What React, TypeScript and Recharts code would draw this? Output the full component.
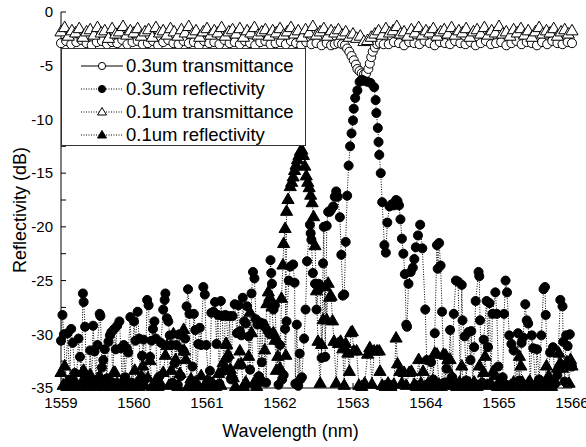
import React from "react";
import {
  ScatterChart,
  Scatter,
  XAxis,
  YAxis,
  ZAxis,
  Legend,
} from "recharts";

// wavelength (nm), level (dB)
const trans03: [number, number][] = [
  [1559.0, -2.9], [1559.07, -2.7], [1559.14, -3.0], [1559.21, -2.8], [1559.28, -2.6], [1559.35, -2.9],
  [1559.42, -3.1], [1559.49, -2.8], [1559.56, -2.7], [1559.63, -3.0], [1559.7, -2.8], [1559.77, -2.9],
  [1559.84, -2.6], [1559.91, -3.0], [1559.98, -2.8], [1560.05, -2.7], [1560.12, -3.0], [1560.19, -2.9],
  [1560.26, -2.7], [1560.33, -3.1], [1560.4, -2.8], [1560.47, -2.6], [1560.54, -2.9], [1560.61, -3.0],
  [1560.68, -2.7], [1560.75, -2.9], [1560.82, -2.8], [1560.89, -3.1], [1560.96, -2.7], [1561.03, -2.9],
  [1561.1, -2.8], [1561.17, -3.0], [1561.24, -2.6], [1561.31, -2.9], [1561.38, -2.8], [1561.45, -3.0],
  [1561.52, -2.7], [1561.59, -2.9], [1561.66, -3.1], [1561.73, -2.8], [1561.8, -2.7], [1561.87, -3.0],
  [1561.94, -2.9], [1562.01, -2.8], [1562.08, -3.0], [1562.15, -2.7], [1562.22, -2.9], [1562.29, -3.1],
  [1562.36, -2.8], [1562.43, -3.0], [1562.5, -2.9], [1562.57, -3.1], [1562.64, -2.9], [1562.7, -3.1],
  [1562.75, -3.0], [1562.8, -2.9], [1562.85, -3.0], [1562.89, -3.1], [1562.92, -3.4], [1562.95, -3.7],
  [1562.98, -4.1], [1563.01, -4.5], [1563.04, -4.9], [1563.06, -5.3], [1563.09, -5.5], [1563.12, -5.7],
  [1563.15, -5.8], [1563.18, -5.7], [1563.21, -5.3], [1563.23, -4.8], [1563.25, -4.2], [1563.27, -3.7],
  [1563.3, -3.3], [1563.33, -3.0], [1563.37, -2.9], [1563.42, -3.0], [1563.49, -3.0], [1563.56, -2.8],
  [1563.63, -2.9], [1563.7, -3.1], [1563.77, -2.8], [1563.84, -2.9], [1563.91, -3.0], [1563.98, -2.7],
  [1564.05, -2.9], [1564.12, -3.1], [1564.19, -2.8], [1564.26, -2.9], [1564.33, -3.0], [1564.4, -2.7],
  [1564.47, -2.9], [1564.54, -3.0], [1564.61, -2.8], [1564.68, -3.1], [1564.75, -2.9], [1564.82, -2.7],
  [1564.89, -3.0], [1564.96, -2.9], [1565.03, -2.8], [1565.1, -3.1], [1565.17, -2.9], [1565.24, -2.7],
  [1565.31, -3.0], [1565.38, -2.8], [1565.45, -2.9], [1565.52, -3.1], [1565.59, -2.8], [1565.66, -3.0],
  [1565.73, -2.7], [1565.8, -2.9], [1565.87, -3.0], [1565.94, -2.8], [1566.0, -2.9],
];

const refl03: [number, number][] = [
  [1559.0, -30.6], [1559.02, -28.2], [1559.04, -30.0], [1559.06, -34.6], [1559.09, -29.9], [1559.12, -34.2],
  [1559.14, -29.5], [1559.16, -30.8], [1559.19, -33.6], [1559.21, -34.8], [1559.24, -30.4], [1559.26, -32.1],
  [1559.28, -34.6], [1559.3, -26.2], [1559.31, -27.0], [1559.33, -29.3], [1559.35, -34.4], [1559.38, -34.0],
  [1559.4, -31.5], [1559.42, -34.7], [1559.44, -29.2], [1559.46, -31.6], [1559.48, -34.3], [1559.5, -31.0],
  [1559.53, -28.1], [1559.54, -28.3], [1559.56, -33.1], [1559.58, -32.4], [1559.6, -31.4], [1559.63, -34.1],
  [1559.65, -30.7], [1559.67, -30.1], [1559.69, -29.8], [1559.71, -34.5], [1559.73, -29.5], [1559.75, -31.4],
  [1559.77, -29.2], [1559.8, -28.8], [1559.82, -31.3], [1559.84, -34.6], [1559.86, -31.0], [1559.88, -34.0],
  [1559.9, -31.3], [1559.92, -31.7], [1559.95, -28.4], [1559.97, -34.5], [1560.0, -28.8], [1560.02, -30.6],
  [1560.05, -27.9], [1560.07, -30.4], [1560.09, -34.8], [1560.11, -32.0], [1560.13, -30.5], [1560.15, -34.2],
  [1560.18, -26.8], [1560.2, -27.3], [1560.22, -32.1], [1560.24, -30.6], [1560.26, -29.5], [1560.28, -28.8],
  [1560.3, -30.4], [1560.32, -34.6], [1560.35, -33.9], [1560.37, -30.8], [1560.4, -27.7], [1560.42, -26.8],
  [1560.43, -26.2], [1560.45, -28.5], [1560.47, -28.8], [1560.49, -30.1], [1560.51, -31.0], [1560.53, -34.5],
  [1560.56, -32.7], [1560.58, -31.0], [1560.6, -34.7], [1560.62, -30.0], [1560.64, -33.9], [1560.66, -31.4],
  [1560.68, -31.6], [1560.7, -30.4], [1560.72, -27.4], [1560.74, -25.8], [1560.76, -28.1], [1560.78, -34.4],
  [1560.8, -33.0], [1560.82, -28.1], [1560.84, -29.6], [1560.86, -34.7], [1560.88, -30.9], [1560.9, -29.4],
  [1560.92, -31.0], [1560.95, -25.6], [1560.97, -26.3], [1560.99, -31.0], [1561.02, -34.3], [1561.04, -33.4],
  [1561.06, -28.0], [1561.09, -27.9], [1561.11, -27.0], [1561.13, -30.9], [1561.15, -28.2], [1561.17, -34.6],
  [1561.19, -26.9], [1561.21, -28.3], [1561.23, -33.4], [1561.25, -28.2], [1561.27, -28.3], [1561.29, -32.2],
  [1561.31, -28.3], [1561.33, -34.2], [1561.35, -28.3], [1561.38, -27.2], [1561.41, -29.9], [1561.43, -27.3],
  [1561.45, -29.7], [1561.47, -30.1], [1561.49, -26.6], [1561.51, -28.8], [1561.53, -29.0], [1561.55, -27.4],
  [1561.57, -30.2], [1561.59, -33.3], [1561.61, -26.2], [1561.63, -24.2], [1561.65, -24.8], [1561.67, -28.6],
  [1561.69, -29.1], [1561.71, -33.9], [1561.73, -28.9], [1561.75, -32.6], [1561.77, -29.0], [1561.79, -29.3],
  [1561.81, -34.5], [1561.83, -29.7], [1561.86, -30.0], [1561.87, -23.1], [1561.88, -24.3], [1561.89, -25.3],
  [1561.91, -27.7], [1561.93, -27.3], [1561.95, -30.6], [1561.98, -34.7], [1562.0, -31.0], [1562.03, -34.2],
  [1562.05, -33.8], [1562.07, -29.5], [1562.09, -28.8], [1562.12, -25.0], [1562.14, -23.7], [1562.18, -23.5],
  [1562.2, -25.2], [1562.21, -34.6], [1562.23, -29.1], [1562.25, -34.8], [1562.27, -31.8], [1562.28, -34.2],
  [1562.3, -34.0], [1562.33, -30.4], [1562.35, -27.7], [1562.37, -23.2], [1562.41, -19.8], [1562.42, -20.6],
  [1562.43, -21.2], [1562.45, -24.3], [1562.48, -25.3], [1562.5, -27.7], [1562.53, -25.3], [1562.55, -25.7],
  [1562.57, -32.2], [1562.59, -23.4], [1562.6, -20.0], [1562.62, -32.1], [1562.64, -19.9], [1562.66, -18.6],
  [1562.68, -18.6], [1562.7, -18.4], [1562.73, -18.1], [1562.75, -17.2], [1562.77, -16.7], [1562.79, -17.2],
  [1562.82, -19.1], [1562.84, -22.6], [1562.86, -26.4], [1562.88, -26.3], [1562.9, -21.4], [1562.92, -17.1],
  [1562.94, -14.3], [1562.96, -12.5], [1562.98, -11.3], [1563.0, -10.1], [1563.01, -9.0], [1563.03, -8.0],
  [1563.06, -7.3], [1563.09, -6.5], [1563.12, -6.3], [1563.15, -6.4], [1563.2, -6.5], [1563.24, -6.6],
  [1563.29, -7.0], [1563.31, -8.2], [1563.32, -9.4], [1563.34, -10.8], [1563.35, -12.1], [1563.36, -13.3],
  [1563.38, -15.0], [1563.4, -17.7], [1563.43, -21.7], [1563.45, -22.4], [1563.47, -19.6], [1563.5, -18.1],
  [1563.53, -17.9], [1563.56, -18.0], [1563.59, -17.5], [1563.61, -17.6], [1563.63, -18.0], [1563.65, -19.3],
  [1563.67, -21.1], [1563.69, -22.5], [1563.71, -24.4], [1563.73, -29.1], [1563.74, -29.3], [1563.76, -25.3],
  [1563.79, -24.2], [1563.82, -23.8], [1563.84, -23.0], [1563.86, -21.9], [1563.89, -20.8], [1563.92, -19.8],
  [1563.95, -22.0], [1563.99, -27.7], [1564.01, -32.4], [1564.04, -34.6], [1564.07, -32.6], [1564.1, -34.2],
  [1564.12, -29.9], [1564.15, -21.7], [1564.16, -23.9], [1564.18, -21.5], [1564.2, -23.6], [1564.22, -27.9],
  [1564.25, -34.5], [1564.28, -33.2], [1564.31, -34.7], [1564.33, -29.6], [1564.36, -34.0], [1564.38, -28.1],
  [1564.41, -25.0], [1564.44, -25.1], [1564.47, -34.6], [1564.49, -25.4], [1564.5, -28.7], [1564.53, -30.2],
  [1564.55, -34.3], [1564.58, -29.8], [1564.61, -32.4], [1564.62, -29.7], [1564.64, -34.8], [1564.66, -31.2],
  [1564.68, -26.9], [1564.72, -24.2], [1564.73, -24.6], [1564.74, -28.7], [1564.77, -34.5], [1564.79, -30.5],
  [1564.83, -26.9], [1564.85, -31.2], [1564.87, -27.1], [1564.89, -34.7], [1564.91, -28.1], [1564.95, -26.1],
  [1564.97, -28.1], [1564.99, -33.0], [1565.02, -34.6], [1565.05, -34.0], [1565.07, -28.1], [1565.09, -25.0],
  [1565.11, -26.1], [1565.14, -30.1], [1565.17, -30.9], [1565.2, -31.5], [1565.23, -34.7], [1565.26, -29.9],
  [1565.28, -34.3], [1565.31, -30.8], [1565.33, -30.3], [1565.36, -27.2], [1565.38, -28.7], [1565.4, -29.0],
  [1565.43, -34.6], [1565.45, -30.1], [1565.47, -31.3], [1565.5, -34.8], [1565.52, -31.4], [1565.55, -34.2],
  [1565.58, -30.1], [1565.61, -25.8], [1565.63, -25.6], [1565.64, -28.2], [1565.67, -34.5], [1565.7, -31.7],
  [1565.74, -31.2], [1565.77, -34.6], [1565.8, -33.8], [1565.84, -26.8], [1565.87, -27.4], [1565.88, -30.7],
  [1565.9, -34.4], [1565.92, -30.1], [1565.94, -31.1], [1565.97, -30.0], [1566.0, -33.0],
];

const trans01: [number, number][] = [
  [1559.0, -1.9], [1559.05, -1.5], [1559.1, -2.3], [1559.15, -1.8], [1559.2, -2.0], [1559.25, -1.6],
  [1559.3, -2.4], [1559.35, -1.9], [1559.4, -1.7], [1559.45, -2.2], [1559.5, -1.5], [1559.55, -2.0],
  [1559.6, -1.8], [1559.65, -2.5], [1559.7, -1.6], [1559.75, -2.1], [1559.8, -1.9], [1559.85, -1.4],
  [1559.9, -2.2], [1559.95, -1.8], [1560.0, -2.0], [1560.05, -1.6], [1560.1, -2.3], [1560.15, -1.9],
  [1560.2, -1.7], [1560.25, -2.4], [1560.3, -1.5], [1560.35, -2.0], [1560.4, -1.8], [1560.45, -2.2],
  [1560.5, -1.6], [1560.55, -1.9], [1560.6, -2.3], [1560.65, -1.7], [1560.7, -2.0], [1560.75, -1.4],
  [1560.8, -2.1], [1560.85, -1.8], [1560.9, -2.4], [1560.95, -1.9], [1561.0, -1.6], [1561.05, -2.2],
  [1561.1, -1.8], [1561.15, -2.0], [1561.2, -1.5], [1561.25, -2.3], [1561.3, -1.9], [1561.35, -1.7],
  [1561.4, -2.1], [1561.45, -1.6], [1561.5, -2.4], [1561.55, -1.8], [1561.6, -2.0], [1561.65, -1.5],
  [1561.7, -2.2], [1561.75, -1.9], [1561.8, -1.7], [1561.85, -2.3], [1561.9, -1.8], [1561.95, -2.0],
  [1562.0, -1.6], [1562.05, -2.2], [1562.1, -1.9], [1562.15, -1.5], [1562.2, -2.1], [1562.25, -1.8],
  [1562.3, -2.4], [1562.35, -1.7], [1562.4, -2.0], [1562.45, -1.4], [1562.5, -2.2], [1562.55, -1.9],
  [1562.6, -1.6], [1562.65, -2.3], [1562.7, -1.8], [1562.75, -2.0], [1562.8, -1.7], [1562.85, -2.2],
  [1562.9, -1.9], [1562.95, -2.4], [1563.0, -2.1], [1563.05, -2.5], [1563.1, -2.3], [1563.15, -2.8],
  [1563.2, -2.7], [1563.25, -2.4], [1563.3, -2.1], [1563.35, -1.8], [1563.4, -2.2], [1563.45, -1.6],
  [1563.5, -2.0], [1563.55, -1.8], [1563.6, -1.4], [1563.65, -2.1], [1563.7, -1.9], [1563.75, -2.3],
  [1563.8, -1.7], [1563.85, -2.0], [1563.9, -1.5], [1563.95, -2.2], [1564.0, -1.8], [1564.05, -2.0],
  [1564.1, -1.6], [1564.15, -2.3], [1564.2, -1.9], [1564.25, -1.7], [1564.3, -2.1], [1564.35, -1.5],
  [1564.4, -2.2], [1564.45, -1.8], [1564.5, -2.0], [1564.55, -1.6], [1564.6, -2.4], [1564.65, -1.9],
  [1564.7, -1.7], [1564.75, -2.1], [1564.8, -1.5], [1564.85, -2.2], [1564.9, -1.8], [1564.95, -2.0],
  [1565.0, -1.4], [1565.05, -2.1], [1565.1, -1.9], [1565.15, -2.3], [1565.2, -1.7], [1565.25, -2.0],
  [1565.3, -1.6], [1565.35, -2.2], [1565.4, -1.8], [1565.45, -2.4], [1565.5, -1.9], [1565.55, -1.5],
  [1565.6, -2.1], [1565.65, -1.8], [1565.7, -2.0], [1565.75, -1.6], [1565.8, -2.3], [1565.85, -1.9],
  [1565.9, -1.7], [1565.95, -2.1], [1566.0, -1.8],
];

const refl01: [number, number][] = [
  [1559.0, -33.6], [1559.03, -34.8], [1559.05, -33.0], [1559.08, -34.9], [1559.12, -34.6], [1559.16, -34.9],
  [1559.2, -34.5], [1559.25, -34.9], [1559.29, -33.6], [1559.31, -33.4], [1559.34, -33.8], [1559.37, -34.9],
  [1559.4, -33.8], [1559.43, -34.7], [1559.47, -34.9], [1559.5, -34.2], [1559.53, -33.9], [1559.56, -34.8],
  [1559.6, -34.9], [1559.64, -34.5], [1559.68, -34.9], [1559.72, -33.6], [1559.74, -33.6], [1559.77, -34.6],
  [1559.8, -34.9], [1559.84, -34.4], [1559.88, -34.9], [1559.92, -34.7], [1559.96, -34.9], [1560.01, -33.4],
  [1560.04, -34.6], [1560.07, -34.9], [1560.1, -33.9], [1560.12, -33.0], [1560.15, -34.8], [1560.19, -34.1],
  [1560.22, -32.5], [1560.25, -34.9], [1560.29, -34.4], [1560.33, -34.9], [1560.37, -34.7], [1560.4, -33.6],
  [1560.43, -32.0], [1560.45, -31.1], [1560.48, -34.8], [1560.51, -33.4], [1560.54, -30.0], [1560.57, -32.4],
  [1560.6, -34.9], [1560.63, -33.7], [1560.66, -30.1], [1560.68, -29.6], [1560.69, -31.6], [1560.71, -32.4],
  [1560.74, -34.9], [1560.78, -34.2], [1560.82, -34.9], [1560.84, -34.5], [1560.88, -34.9], [1560.92, -33.9],
  [1560.96, -34.9], [1561.0, -34.4], [1561.04, -34.9], [1561.08, -34.6], [1561.12, -34.9], [1561.16, -33.7],
  [1561.19, -34.8], [1561.22, -32.7], [1561.24, -33.4], [1561.26, -30.9], [1561.27, -31.0], [1561.29, -31.9],
  [1561.32, -33.3], [1561.34, -33.8], [1561.36, -34.1], [1561.39, -34.9], [1561.43, -32.9], [1561.45, -31.6],
  [1561.47, -32.8], [1561.5, -34.9], [1561.53, -34.5], [1561.57, -32.1], [1561.59, -28.0], [1561.61, -29.9],
  [1561.64, -34.6], [1561.68, -34.9], [1561.72, -34.3], [1561.77, -34.5], [1561.79, -31.5], [1561.82, -27.2],
  [1561.84, -26.1], [1561.86, -26.6], [1561.89, -27.5], [1561.91, -29.9], [1561.93, -30.6], [1561.95, -33.4],
  [1561.97, -32.1], [1562.0, -33.2], [1562.02, -26.7], [1562.04, -23.6], [1562.05, -21.6], [1562.07, -20.2],
  [1562.08, -32.0], [1562.09, -18.6], [1562.11, -17.5], [1562.14, -16.3], [1562.16, -15.9], [1562.18, -15.4],
  [1562.2, -14.8], [1562.22, -14.3], [1562.24, -13.8], [1562.26, -13.4], [1562.28, -13.0], [1562.3, -12.9],
  [1562.32, -13.4], [1562.34, -14.4], [1562.36, -15.3], [1562.38, -15.9], [1562.4, -16.4], [1562.42, -17.1],
  [1562.44, -17.8], [1562.46, -19.1], [1562.48, -21.8], [1562.5, -26.0], [1562.52, -30.7], [1562.55, -34.6],
  [1562.57, -31.0], [1562.59, -28.7], [1562.62, -25.6], [1562.64, -28.7], [1562.66, -25.3], [1562.68, -26.6],
  [1562.7, -26.5], [1562.72, -28.8], [1562.74, -30.7], [1562.77, -34.6], [1562.8, -30.9], [1562.83, -30.7],
  [1562.86, -31.4], [1562.88, -34.8], [1562.9, -30.9], [1562.93, -31.8], [1562.95, -33.5], [1562.97, -29.9],
  [1562.99, -29.8], [1563.01, -31.6], [1563.05, -31.6], [1563.08, -34.8], [1563.12, -34.9], [1563.16, -34.6],
  [1563.2, -31.9], [1563.23, -31.3], [1563.26, -34.7], [1563.29, -31.6], [1563.33, -31.6], [1563.36, -31.6],
  [1563.37, -33.5], [1563.4, -34.8], [1563.44, -34.9], [1563.48, -34.6], [1563.52, -34.9], [1563.56, -34.7],
  [1563.59, -30.4], [1563.61, -32.8], [1563.64, -33.5], [1563.67, -34.6], [1563.7, -33.6], [1563.73, -34.8],
  [1563.77, -33.6], [1563.8, -33.5], [1563.84, -34.7], [1563.87, -34.9], [1563.9, -32.4], [1563.93, -34.6],
  [1563.96, -33.5], [1563.99, -34.9], [1564.03, -34.6], [1564.06, -34.9], [1564.09, -34.4], [1564.12, -31.8],
  [1564.15, -31.9], [1564.18, -34.7], [1564.21, -34.9], [1564.24, -31.9], [1564.27, -32.0], [1564.3, -32.4],
  [1564.33, -32.4], [1564.35, -33.9], [1564.38, -34.8], [1564.42, -34.9], [1564.46, -34.5], [1564.49, -33.0],
  [1564.52, -34.8], [1564.56, -34.9], [1564.6, -34.6], [1564.64, -34.9], [1564.66, -34.5], [1564.7, -34.9],
  [1564.73, -33.0], [1564.76, -34.7], [1564.79, -33.6], [1564.81, -32.1], [1564.84, -34.8], [1564.88, -34.6],
  [1564.92, -33.5], [1564.95, -33.9], [1564.98, -34.9], [1565.0, -34.5], [1565.04, -34.9], [1565.08, -34.6],
  [1565.12, -34.9], [1565.16, -34.8], [1565.2, -34.5], [1565.24, -34.9], [1565.28, -32.1], [1565.3, -33.0],
  [1565.32, -34.5], [1565.36, -34.9], [1565.4, -34.6], [1565.42, -34.4], [1565.46, -34.9], [1565.5, -34.7],
  [1565.54, -34.5], [1565.58, -34.9], [1565.62, -34.6], [1565.65, -33.0], [1565.68, -33.9], [1565.72, -34.9],
  [1565.76, -34.4], [1565.8, -33.2], [1565.82, -31.8], [1565.84, -32.7], [1565.87, -33.2], [1565.9, -33.0],
  [1565.93, -32.6], [1565.96, -34.6], [1565.98, -32.4], [1566.0, -33.0],
];

const xTicks = [1559, 1559.5, 1560, 1560.5, 1561, 1561.5, 1562, 1562.5, 1563, 1563.5, 1564, 1564.5, 1565, 1565.5, 1566];
const yTicks = [-35, -32.5, -30, -27.5, -25, -22.5, -20, -17.5, -15, -12.5, -10, -7.5, -5, -2.5, 0];

const toPoints = (pairs: [number, number][]) => pairs.map(([x, y]) => ({ x, y }));

const FONT = '"Liberation Sans", Arial, sans-serif';
const dotted = { stroke: "#000", strokeWidth: 1, strokeDasharray: "1 1.5" };
const solid = { stroke: "#000", strokeWidth: 1 };

const legendItems = [
  { name: "0.3um transmittance", shape: "circle", fill: "#fff", dash: undefined },
  { name: "0.3um reflectivity", shape: "circle", fill: "#000", dash: "1 1.5" },
  { name: "0.1um transmittance", shape: "triangle", fill: "#fff", dash: "1 1.5" },
  { name: "0.1um reflectivity", shape: "triangle", fill: "#000", dash: "1 1.5" },
];

function LegendBox() {
  return (
    <div
      style={{
        width: 245,
        height: 98,
        background: "#fff",
        border: "1px solid #333",
        boxSizing: "border-box",
        paddingTop: 6,
        fontFamily: FONT,
        fontSize: 18.5,
      }}
    >
      {legendItems.map((it) => (
        <div key={it.name} style={{ display: "flex", alignItems: "center", height: 22.8 }}>
          <svg width={64} height={20} style={{ flex: "none" }}>
            <line x1={19} y1={10} x2={61} y2={10} stroke="#000" strokeWidth={1} strokeDasharray={it.dash} />
            {it.shape === "circle" ? (
              <circle cx={40} cy={10} r={3.6} fill={it.fill} stroke="#000" />
            ) : (
              <polygon points="40,5.5 44.5,13 35.5,13" fill={it.fill} stroke="#000" />
            )}
          </svg>
          <span style={{ whiteSpace: "nowrap", lineHeight: "20px" }}>{it.name}</span>
        </div>
      ))}
    </div>
  );
}

export default function App() {
  const tickStyle = { fill: "#000", fontSize: 15, fontFamily: FONT };
  return (
    <div style={{ position: "absolute", left: 0, top: 0, width: 586, height: 447, background: "#fff" }}>
      <ScatterChart
        width={586}
        height={447}
        margin={{ top: 12, right: 14, bottom: 0, left: 0 }}
        style={{ fontFamily: FONT }}
      >
        <XAxis
          type="number"
          dataKey="x"
          domain={[1559, 1566]}
          ticks={xTicks}
          interval={0}
          height={59}
          tickSize={-5}
          tickMargin={14}
          stroke="#000"
          tick={tickStyle}
          tickFormatter={(v: number) => (Number.isInteger(v) ? String(v) : "")}
          label={{
            value: "Wavelength (nm)",
            position: "insideBottom",
            offset: 10,
            dx: -26,
            style: { fill: "#000", fontSize: 18, fontFamily: FONT },
          }}
        />
        <XAxis
          xAxisId="top"
          orientation="top"
          type="number"
          dataKey="x"
          domain={[1559, 1566]}
          ticks={xTicks}
          interval={0}
          height={0}
          tickSize={-5}
          stroke="#000"
          tick={false}
        />
        <YAxis
          type="number"
          dataKey="y"
          domain={[-35, 0]}
          ticks={yTicks}
          interval={0}
          width={61}
          tickSize={-5}
          tickMargin={13}
          stroke="#000"
          tick={tickStyle}
          tickFormatter={(v: number) => (v % 5 === 0 ? String(v) : "")}
          label={{
            value: "Reflectivity (dB)",
            angle: -90,
            position: "insideLeft",
            content: ({ viewBox }: any) => (
              <text
                x={viewBox.x + 20}
                y={viewBox.y + viewBox.height / 2 + 10}
                transform={`rotate(-90 ${viewBox.x + 20} ${viewBox.y + viewBox.height / 2 + 10})`}
                textAnchor="middle"
                dominantBaseline="central"
                fill="#000"
                fontSize={18}
                fontFamily={FONT}
              >
                Reflectivity (dB)
              </text>
            ),
          }}
        />
        <YAxis
          yAxisId="right"
          orientation="right"
          type="number"
          dataKey="y"
          domain={[-35, 0]}
          ticks={yTicks}
          interval={0}
          width={0}
          tickSize={-5}
          stroke="#000"
          tick={false}
        />
        <ZAxis range={[40, 40]} />
        <Legend
          verticalAlign="middle"
          align="center"
          layout="vertical"
          wrapperStyle={{ position: "absolute", left: 61, top: 48, width: 245, height: 98 }}
          content={() => <LegendBox />}
        />
        <Scatter
          name="0.3um transmittance"
          data={toPoints(trans03)}
          shape="circle"
          fill="#fff"
          stroke="#000"
          line={solid}
          lineType="joint"
          isAnimationActive={false}
        />
        <Scatter
          name="0.3um reflectivity"
          data={toPoints(refl03)}
          shape="circle"
          fill="#000"
          stroke="#000"
          line={dotted}
          lineType="joint"
          isAnimationActive={false}
        />
        <Scatter
          name="0.1um transmittance"
          data={toPoints(trans01)}
          shape="triangle"
          fill="#fff"
          stroke="#000"
          line={dotted}
          lineType="joint"
          isAnimationActive={false}
        />
        <Scatter
          name="0.1um reflectivity"
          data={toPoints(refl01)}
          shape="triangle"
          fill="#000"
          stroke="#000"
          line={dotted}
          lineType="joint"
          isAnimationActive={false}
        />
      </ScatterChart>
    </div>
  );
}
